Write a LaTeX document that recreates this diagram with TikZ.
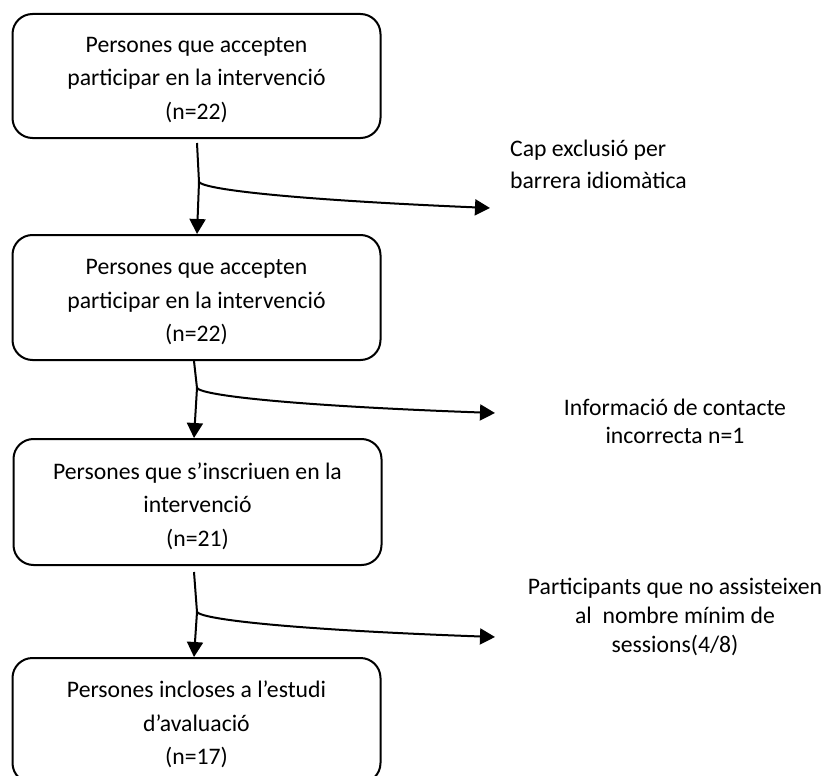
\documentclass[tikz,border=0pt]{standalone}
\usepackage{fontspec}
\setmainfont{Carlito}
\usetikzlibrary{arrows.meta}
\begin{document}
\begin{tikzpicture}[x=1pt,y=-1pt,
  stagebox/.style={draw, line width=2pt, rounded corners=20pt,
    minimum width=368pt, inner sep=0pt},
  stagetext/.style={inner sep=0pt, align=center,
    font={\fontsize{23.7}{33.5}\selectfont}},
  flow/.style={line width=2pt, -{Triangle[width=16pt,length=15pt]}},
  note/.style={inner sep=0pt, font={\fontsize{23.7}{29}\selectfont}}
]
\path[use as bounding box, clip] (0,0) rectangle (828,776);

% stages of the flow
\node[stagebox, minimum height=124pt] (b1) at (196.5,76) {};
\node[stagebox, minimum height=125pt] (b2) at (196.5,297.5) {};
\node[stagebox, minimum height=126pt] (b3) at (197.5,502) {};
\node[stagebox, minimum height=125pt] (b4) at (196.5,720.5) {};

\node[stagetext] (t1) at ([yshift=-4pt]b1.center)
  {Persones que accepten\\participar en la intervenció\\(n=22)};
\node[stagetext] (t2) at ([yshift=-5pt]b2.center)
  {Persones que accepten\\participar en la intervenció\\(n=22)};
\node[stagetext] (t3) at ([yshift=-4pt]b3.center)
  {Persones que s’inscriuen en la\\intervenció\\(n=21)};
\node[stagetext] (t4) at ([yshift=-4pt]b4.center)
  {Persones incloses a l’estudi\\d’avaluació\\(n=17)};

% exclusion notes
\node[note, anchor=west, align=left, font={\fontsize{23.7}{32}\selectfont}] (n1) at (510,164)
  {Cap exclusió per\\barrera idiomàtica};
\node[note, align=center, font={\fontsize{23.7}{28}\selectfont}] (n2) at (675,421)
  {Informació de contacte\\incorrecta n=1};
\node[note, align=center] (n3) at (675,617)
  {Participants que no assisteixen\\al\ \ nombre mínim de\\sessions(4/8)};

% branch points and ends of the side arrows
\coordinate (s1) at (197,143);
\coordinate (j1) at (199,182);
\coordinate (e1) at (490,208);
\coordinate (s2) at (194,361);
\coordinate (j2) at (197,388);
\coordinate (e2) at (495,413);
\coordinate (s3) at (194,572);
\coordinate (j3) at (197,612);
\coordinate (e3) at (495,637);

% main flow
\draw[flow] (s1) -- (j1) -- (s1 |- b2.north);
\draw[flow] (s2) -- (j2) -- (s2 |- b3.north);
\draw[flow] (s3) -- (j3) -- (s3 |- b4.north);

% side branches
\draw[flow] (j1) .. controls (205,190) and (300,200) .. (e1);
\draw[flow] (j2) .. controls (203,396) and (300,406) .. (e2);
\draw[flow] (j3) .. controls (203,620) and (300,630) .. (e3);
\end{tikzpicture}
\end{document}
